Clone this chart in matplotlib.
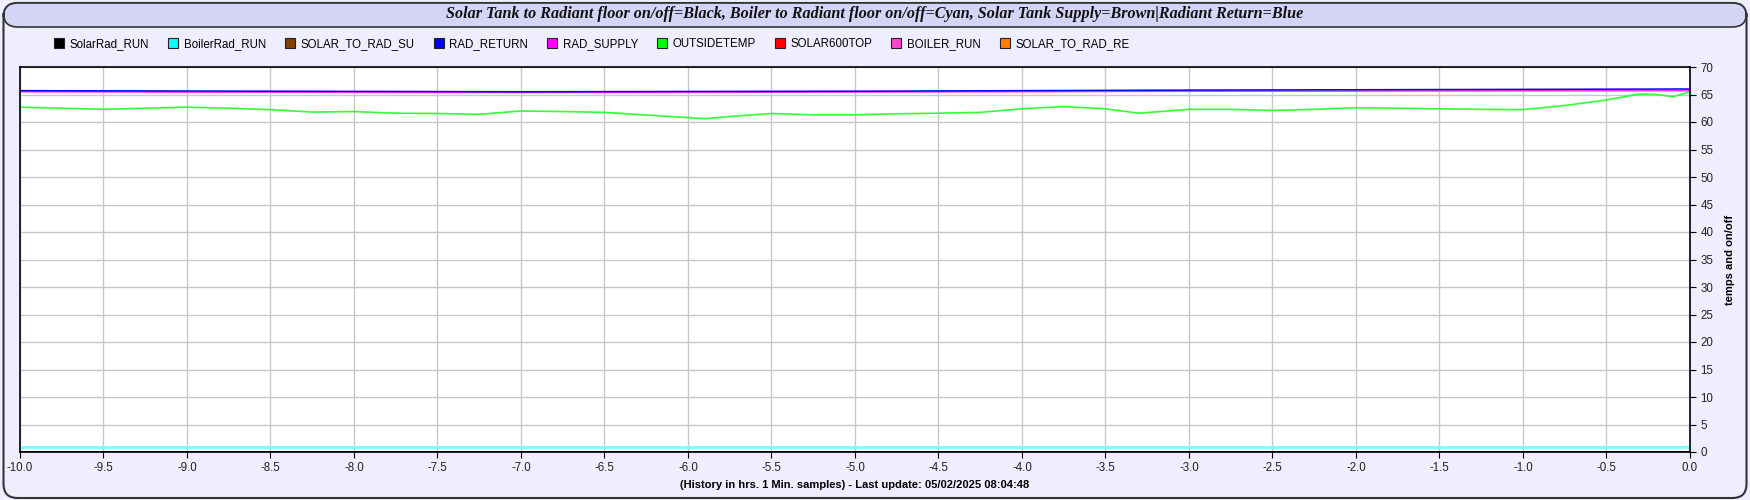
import matplotlib
matplotlib.use("Agg")
import matplotlib.pyplot as plt
from matplotlib.patches import FancyBboxPatch
from matplotlib.lines import Line2D
import numpy as np

# data (hours before last update)
hours_flat = [-10.0, -7.0, -5.0, -3.0, 0.0]
rad_return = [65.7, 65.5, 65.6, 65.8, 66.0]
rad_supply = [65.5, 65.35, 65.45, 65.6, 65.7]

hours_out = [-10.0, -9.75, -9.5, -9.25, -9.0, -8.75, -8.5, -8.25, -8.0, -7.75,
             -7.5, -7.25, -7.0, -6.75, -6.5, -6.25, -6.0, -5.9, -5.75, -5.5,
             -5.25, -5.0, -4.75, -4.5, -4.25, -4.0, -3.75, -3.5, -3.3, -3.0,
             -2.75, -2.5, -2.25, -2.0, -1.75, -1.5, -1.25, -1.0, -0.75, -0.5,
             -0.3, -0.2, -0.1, 0.0]
outside_temp = [62.7, 62.5, 62.3, 62.5, 62.7, 62.5, 62.25, 61.8, 61.9, 61.6,
                61.55, 61.4, 62.0, 61.9, 61.75, 61.25, 60.8, 60.6, 61.0, 61.55,
                61.3, 61.3, 61.5, 61.6, 61.75, 62.4, 62.8, 62.4, 61.6, 62.3,
                62.3, 62.1, 62.3, 62.6, 62.5, 62.4, 62.3, 62.25, 63.0, 64.0,
                65.1, 65.0, 64.6, 65.5]

boiler_rad_run = [1, 1]
solar_rad_run = [0, 0]
hours_run = [-10.0, 0.0]

series_names = ["SolarRad_RUN", "BoilerRad_RUN", "SOLAR_TO_RAD_SU", "RAD_RETURN",
                "RAD_SUPPLY", "OUTSIDETEMP", "SOLAR600TOP", "BOILER_RUN", "SOLAR_TO_RAD_RE"]
series_colors = ["#000000", "#00ffff", "#804000", "#0000ff",
                 "#ff00ff", "#00ff00", "#ff0000", "#ff44cc", "#ff8000"]

title = ("Solar Tank to Radiant floor on/off=Black, Boiler to Radiant floor on/off=Cyan, "
         "Solar Tank Supply=Brown|Radiant Return=Blue")
xlabel = "(History in hrs. 1 Min. samples) - Last update: 05/02/2025 08:04:48"

plt.rcParams['font.family'] = ['Liberation Sans', 'DejaVu Sans']

fig = plt.figure(figsize=(17.5, 5), dpi=100)
fig.patch.set_facecolor("#eeeeff")

# outer frame and title bar
frame = FancyBboxPatch((0.002, 0.004), 0.996, 0.99, boxstyle="round,pad=0,rounding_size=0.008",
                       transform=fig.transFigure, facecolor="#eeeeff", edgecolor="#333333",
                       linewidth=1.5, zorder=-2, mutation_aspect=3.5)
fig.patches.append(frame)
bar = FancyBboxPatch((0.002, 0.946), 0.996, 0.048, boxstyle="round,pad=0,rounding_size=0.008",
                     transform=fig.transFigure, facecolor="#d4d4f6", edgecolor="#333333",
                     linewidth=1.2, zorder=-1, mutation_aspect=3.5)
fig.patches.append(bar)
fig.text(0.5, 0.972, title, ha="center", va="center", fontsize=11.6, fontweight="bold",
         fontstyle="italic", family="Liberation Serif", color="#111111")

ax = fig.add_axes([0.0114, 0.096, 0.9543, 0.77])
ax.set_zorder(5)
ax.set_facecolor("white")

ax.plot(hours_run, boiler_rad_run, color="#80ffff", linewidth=2.2)
ax.plot(hours_run, solar_rad_run, color="#000000", linewidth=1.2)
ax.plot(hours_out, outside_temp, color="#33ff33", linewidth=1.2)
ax.plot(hours_flat, rad_supply, color="#ff33ff", linewidth=1.2)
ax.plot(hours_flat, rad_return, color="#0000ff", linewidth=1.1)

ax.set_xlim(-10, 0)
ax.set_ylim(0, 70)
ax.set_xticks(np.arange(-10, 0.01, 0.5))
ax.set_xticklabels([f"{v:.1f}" for v in np.arange(-10, 0.01, 0.5)])
ax.set_yticks(range(0, 71, 5))
ax.yaxis.tick_right()
ax.yaxis.set_label_position("right")
ax.tick_params(labelsize=8.3, length=4, color="black", labelcolor="#222222")
ax.grid(True, color="#c8c8c8", linewidth=1)
ax.set_axisbelow(True)
for s in ax.spines.values():
    s.set_color("black")
    s.set_linewidth(1.2)
ax.set_ylabel("temps and on/off", fontsize=8, fontweight="bold", labelpad=8)
ax.set_xlabel(xlabel, fontsize=8, fontweight="bold", labelpad=4)

handles = [Line2D([], [], linestyle="none", marker="s", markersize=7, markerfacecolor=c,
                  markeredgecolor="#222222", markeredgewidth=0.8) for c in series_colors]
fig.legend(handles, series_names, loc="center left", bbox_to_anchor=(0.0245, 0.912), ncol=9,
           frameon=False, fontsize=8.3, handletextpad=0.45, columnspacing=1.55, handlelength=1.0)

fig.savefig("out.png", dpi=100, facecolor=fig.get_facecolor())
